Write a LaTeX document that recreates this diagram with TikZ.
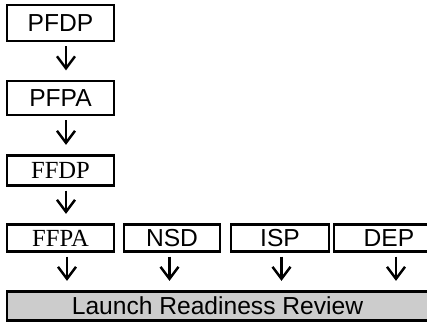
\documentclass[tikz,border=0pt]{standalone}
\usepackage{fontspec}
\setmainfont{Liberation Sans}
\newfontfamily\timesfont{Liberation Serif}
\usetikzlibrary{arrows.meta}

\begin{document}
\begin{tikzpicture}[>={Straight Barb[length=0.24cm,width=0.36cm]}, node distance=1.45cm]
    \tikzstyle{box}=[rectangle,draw,line width=1.3pt,align=center,inner sep=0pt,minimum width=2.14cm,font=\fontsize{14pt}{16pt}\selectfont]
    \tikzstyle{flow}=[->,line width=1.4pt,shorten <=0.08cm,shorten >=0.19cm]
    \useasboundingbox (-1.21,0.46) rectangle (7.33,-6.0);
    \clip (-1.21,0.46) rectangle (7.33,-6.0);
    \node[box,minimum height=0.72cm] (pfdp) {PFDP};
    \node[box,minimum height=0.68cm,below of=pfdp,yshift=-0.05cm] (pfpa) {PFPA};
    \node[box,minimum height=0.6cm,below of=pfpa] (ffdp) {\timesfont FFDP};
    \node[box,minimum height=0.54cm,below of=ffdp,yshift=0.1cm] (ffpa) {\timesfont FFPA};
    \node[box,minimum height=0.54cm,minimum width=1.92cm,node distance=2.23cm,right of=ffpa] (nsd) {NSD};
    \node[box,minimum height=0.54cm,minimum width=1.96cm,node distance=2.16cm,right of=nsd] (isp) {ISP};
    \node[box,minimum height=0.54cm,minimum width=2.2cm,node distance=2.18cm,right of=isp] (dep) {DEP};
    \node[box,fill=gray!40,minimum height=0.58cm,minimum width=8.42cm,below of=ffpa,xshift=3.14cm,yshift=0.09cm] (launch) {Launch Readiness Review};
    \draw[flow] ([xshift=0.11cm]pfdp.south) -- ([xshift=0.11cm]pfpa.north);
    \draw[flow] ([xshift=0.11cm]pfpa.south) -- ([xshift=0.11cm]ffdp.north);
    \draw[flow] ([xshift=0.11cm]ffdp.south) -- ([xshift=0.11cm]ffpa.north);
    \draw[flow] ([xshift=0.13cm]ffpa.south) -- ([xshift=0.13cm]ffpa.south |- launch.north);
    \draw[flow] ([xshift=-0.05cm]nsd.south) -- ([xshift=-0.05cm]nsd.south |- launch.north);
    \draw[flow] ([xshift=0.03cm]isp.south) -- ([xshift=0.03cm]isp.south |- launch.north);
    \draw[flow] ([xshift=0.14cm]dep.south) -- ([xshift=0.14cm]dep.south |- launch.north);
  \end{tikzpicture}
\end{document}
